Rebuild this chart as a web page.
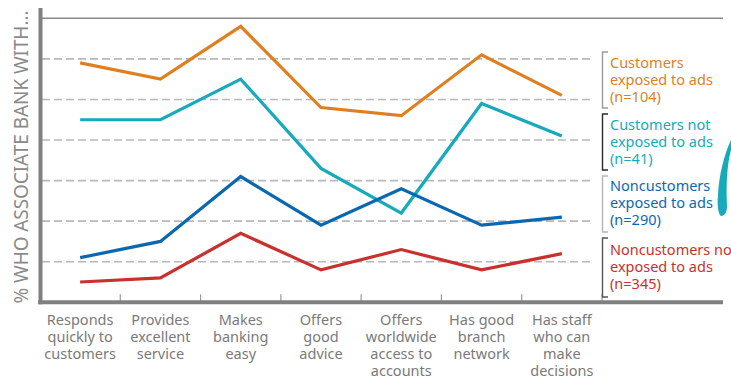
<!DOCTYPE html>
<html>
<head>
<meta charset="utf-8">
<script src="https://cdn.jsdelivr.net/npm/d3@7"></script>
<style>
  body { margin: 0; background: #fff; }
  svg { display: block; font-family: "Noto Sans", sans-serif; }
</style>
</head>
<body>
<div id="chart"></div>
<script>
// categories and series (% who associate the bank with ...)
var categories = [
  ["Responds", "quickly to", "customers"],
  ["Provides", "excellent", "service"],
  ["Makes", "banking", "easy"],
  ["Offers", "good", "advice"],
  ["Offers", "worldwide", "access to", "accounts"],
  ["Has good", "branch", "network"],
  ["Has staff", "who can", "make", "decisions"]
];
var customersAds = [59, 55, 68, 48, 46, 61, 51];
var customersNoAds = [45, 45, 55, 33, 22, 49, 41];
var noncustomersAds = [11, 15, 31, 19, 28, 19, 21];
var noncustomersNoAds = [5, 6, 17, 8, 13, 8, 12];

var seriesNames = [
  ["Customers", "exposed to ads", "(n=104)"],
  ["Customers not", "exposed to ads", "(n=41)"],
  ["Noncustomers", "exposed to ads", "(n=290)"],
  ["Noncustomers not", "exposed to ads", "(n=345)"]
];
var yTitle = "% WHO ASSOCIATE BANK WITH...";

var series = [customersAds, customersNoAds, noncustomersAds, noncustomersNoAds];
var colors = ["#e07f1f", "#16aabb", "#0a68b1", "#c8312d"];
var bracketColors = ["#9a9a9a", "#2a2a2a", "#b5b5b5", "#555555"];

var width = 731;
var height = 376;

var svg = d3
  .select("#chart")
  .append("svg")
  .attr("width", width)
  .attr("height", height);

var keys = categories.map(function(d, i) {
  return i;
});

var xScale = d3
  .scaleBand()
  .domain(keys)
  .range([40, 602])
  .padding(0);

var yScale = d3
  .scaleLinear()
  .domain([0, 70])
  .range([302.3, 18.3]);

// dashed gridlines
svg
  .selectAll(".grid")
  .data(yScale.ticks(7).filter(function(d) {
    return d > 0 && d < 70;
  }))
  .enter()
  .append("line")
  .attr("class", "grid")
  .attr("x1", 42)
  .attr("x2", 592)
  .attr("y1", function(d) {
    return yScale(d);
  })
  .attr("y2", function(d) {
    return yScale(d);
  })
  .attr("stroke", "#b8b8b8")
  .attr("stroke-width", 1.6)
  .attr("stroke-dasharray", "8,4");

// solid top line
svg
  .append("line")
  .attr("x1", 42)
  .attr("x2", 723)
  .attr("y1", yScale(70))
  .attr("y2", yScale(70))
  .attr("stroke", "#8a8a8a")
  .attr("stroke-width", 1.4);

// ticks between categories
svg
  .selectAll(".xtick")
  .data(keys)
  .enter()
  .append("line")
  .attr("class", "xtick")
  .attr("x1", function(d) {
    return xScale(d) + xScale.bandwidth();
  })
  .attr("x2", function(d) {
    return xScale(d) + xScale.bandwidth();
  })
  .attr("y1", yScale(0) - 8)
  .attr("y2", yScale(0))
  .attr("stroke", "#999")
  .attr("stroke-width", 1.2);

// axes
svg
  .append("line")
  .attr("x1", 40.5)
  .attr("x2", 40.5)
  .attr("y1", 8)
  .attr("y2", yScale(0) + 2)
  .attr("stroke", "#808080")
  .attr("stroke-width", 4);

svg
  .append("line")
  .attr("x1", 38)
  .attr("x2", 723)
  .attr("y1", yScale(0))
  .attr("y2", yScale(0))
  .attr("stroke", "#808080")
  .attr("stroke-width", 4);

// lines
var line = d3
  .line()
  .x(function(d, i) {
    return xScale(i) + xScale.bandwidth() / 2;
  })
  .y(function(d) {
    return yScale(d);
  });

svg
  .selectAll(".series")
  .data(series)
  .enter()
  .append("path")
  .attr("class", "series")
  .attr("d", line)
  .attr("fill", "none")
  .attr("stroke", function(d, i) {
    return colors[i];
  })
  .attr("stroke-width", 3.2)
  .attr("stroke-linejoin", "miter");

// category labels
var labels = svg
  .selectAll(".xlabel")
  .data(categories)
  .enter()
  .append("text")
  .attr("class", "xlabel")
  .attr("text-anchor", "middle")
  .attr("fill", "#7a7a7a")
  .style("font-size", "14.5px")
  .attr("x", function(d, i) {
    return xScale(i) + xScale.bandwidth() / 2;
  })
  .attr("y", 325);

labels
  .selectAll("tspan")
  .data(function(d) {
    return d;
  })
  .enter()
  .append("tspan")
  .attr("x", function() {
    return this.parentNode.getAttribute("x");
  })
  .attr("dy", function(d, i) {
    return i == 0 ? 0 : 17;
  })
  .text(function(d) {
    return d;
  });

// legend brackets
var legendTop = [52, 114, 176, 238];
var legendBottom = [108, 170, 232, 297];

svg
  .selectAll(".bracket")
  .data(legendTop)
  .enter()
  .append("path")
  .attr("class", "bracket")
  .attr("d", function(d, i) {
    return "M608," + d + "H602.5V" + legendBottom[i] + "H608";
  })
  .attr("fill", "none")
  .attr("stroke", function(d, i) {
    return bracketColors[i];
  })
  .attr("stroke-width", 1.4);

// legend text
var legendText = svg
  .selectAll(".legend")
  .data(seriesNames)
  .enter()
  .append("text")
  .attr("class", "legend")
  .attr("fill", function(d, i) {
    return colors[i];
  })
  .style("font-size", "14.5px")
  .attr("x", 610)
  .attr("y", function(d, i) {
    return [68, 130, 191, 255][i];
  });

legendText
  .selectAll("tspan")
  .data(function(d) {
    return d;
  })
  .enter()
  .append("tspan")
  .attr("x", 610)
  .attr("dy", function(d, i) {
    return i == 0 ? 0 : 17;
  })
  .text(function(d) {
    return d;
  });

// decorative brush stroke at the right edge
svg
  .append("path")
  .attr("d", "M731,140 L731,150 C727,165 726,185 727,205 C727,212 725,216 721,216 C718,214 717,205 718,195 C719,175 724,155 731,140 Z")
  .attr("fill", colors[1]);

// y title
svg
  .append("text")
  .attr("transform", "translate(28,157) rotate(-90)")
  .attr("text-anchor", "middle")
  .attr("fill", "#8a8a8a")
  .attr("textLength", 293)
  .attr("lengthAdjust", "spacing")
  .style("font-size", "19px")
  .text(yTitle);
</script>
</body>
</html>
